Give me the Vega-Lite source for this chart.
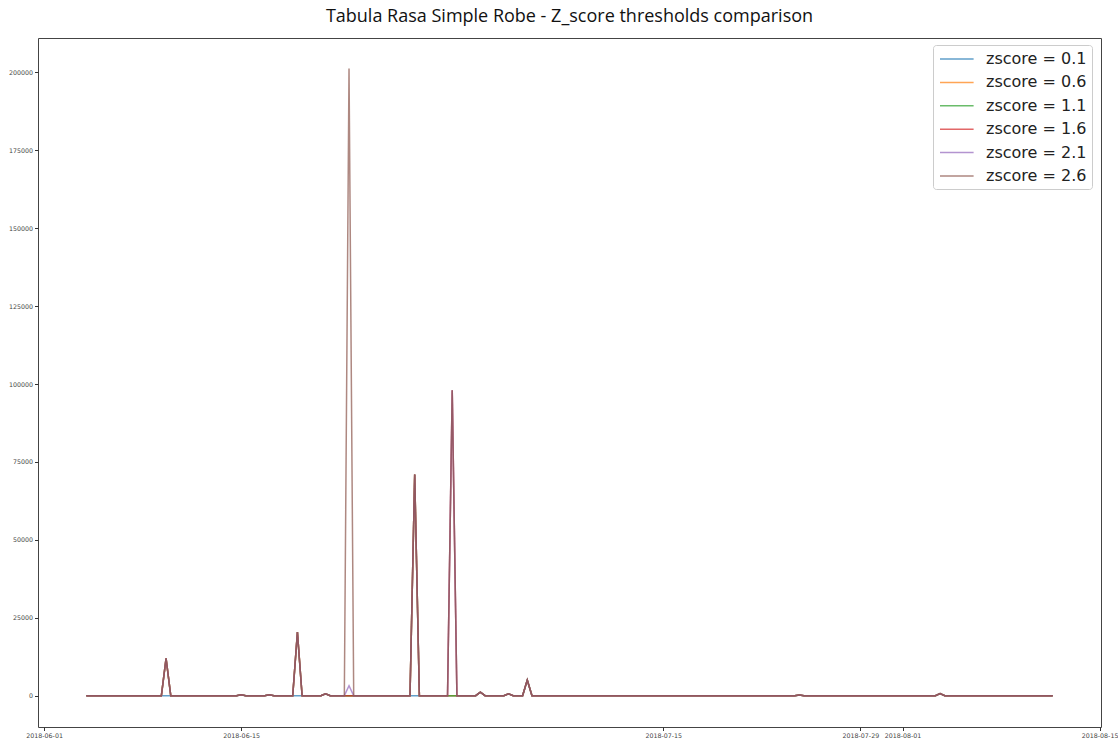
{
  "$schema": "https://vega.github.io/schema/vega-lite/v6.json",
  "width": 1063,
  "height": 689,
  "autosize": {"type": "none"},
  "padding": {"left": 38, "top": 38, "right": 17, "bottom": 14},
  "background": "white",
  "title": {
    "text": "Tabula Rasa Simple Robe - Z_score thresholds comparison",
    "font": "Open Sans",
    "fontSize": 18,
    "fontWeight": "normal",
    "color": "#111111",
    "anchor": "middle",
    "frame": "group",
    "offset": 12
  },
  "data": {
    "values": [
      {"t": "2018-06-04T00:00", "z01": 0, "z06": 0, "z11": 0, "z16": 0, "z21": 0, "z26": 0},
      {"t": "2018-06-09T08:00", "z01": 0, "z06": 0, "z11": 0, "z16": 0, "z21": 0, "z26": 0},
      {"t": "2018-06-09T16:00", "z01": 0, "z06": 12000, "z11": 12000, "z16": 12000, "z21": 12000, "z26": 12000},
      {"t": "2018-06-10T00:00", "z01": 0, "z06": 0, "z11": 0, "z16": 0, "z21": 0, "z26": 0},
      {"t": "2018-06-14T16:00", "z01": 0, "z06": 0, "z11": 0, "z16": 0, "z21": 0, "z26": 0},
      {"t": "2018-06-15T00:00", "z01": 300, "z06": 300, "z11": 300, "z16": 300, "z21": 300, "z26": 300},
      {"t": "2018-06-15T08:00", "z01": 0, "z06": 0, "z11": 0, "z16": 0, "z21": 0, "z26": 0},
      {"t": "2018-06-16T16:00", "z01": 0, "z06": 0, "z11": 0, "z16": 0, "z21": 0, "z26": 0},
      {"t": "2018-06-17T00:00", "z01": 300, "z06": 300, "z11": 300, "z16": 300, "z21": 300, "z26": 300},
      {"t": "2018-06-17T08:00", "z01": 0, "z06": 0, "z11": 0, "z16": 0, "z21": 0, "z26": 0},
      {"t": "2018-06-18T16:00", "z01": 0, "z06": 0, "z11": 0, "z16": 0, "z21": 0, "z26": 0},
      {"t": "2018-06-19T00:00", "z01": 0, "z06": 20400, "z11": 20400, "z16": 20400, "z21": 20400, "z26": 20400},
      {"t": "2018-06-19T08:00", "z01": 0, "z06": 0, "z11": 0, "z16": 0, "z21": 0, "z26": 0},
      {"t": "2018-06-20T16:00", "z01": 0, "z06": 0, "z11": 0, "z16": 0, "z21": 0, "z26": 0},
      {"t": "2018-06-21T00:00", "z01": 600, "z06": 600, "z11": 600, "z16": 600, "z21": 600, "z26": 600},
      {"t": "2018-06-21T08:00", "z01": 0, "z06": 0, "z11": 0, "z16": 0, "z21": 0, "z26": 0},
      {"t": "2018-06-22T08:00", "z01": 0, "z06": 0, "z11": 0, "z16": 0, "z21": 0, "z26": 0},
      {"t": "2018-06-22T16:00", "z01": 0, "z06": 0, "z11": 0, "z16": 0, "z21": 3200, "z26": 201300},
      {"t": "2018-06-23T00:00", "z01": 0, "z06": 0, "z11": 0, "z16": 0, "z21": 0, "z26": 0},
      {"t": "2018-06-27T00:00", "z01": 0, "z06": 0, "z11": 0, "z16": 0, "z21": 0, "z26": 0},
      {"t": "2018-06-27T08:00", "z01": 0, "z06": 71000, "z11": 71000, "z16": 71000, "z21": 71000, "z26": 71000},
      {"t": "2018-06-27T16:00", "z01": 0, "z06": 0, "z11": 0, "z16": 0, "z21": 0, "z26": 0},
      {"t": "2018-06-29T16:00", "z01": 0, "z06": 0, "z11": 0, "z16": 0, "z21": 0, "z26": 0},
      {"t": "2018-06-30T00:00", "z01": 0, "z06": 0, "z11": 0, "z16": 98000, "z21": 98000, "z26": 98000},
      {"t": "2018-06-30T08:00", "z01": 0, "z06": 0, "z11": 0, "z16": 0, "z21": 0, "z26": 0},
      {"t": "2018-07-01T16:00", "z01": 0, "z06": 0, "z11": 0, "z16": 0, "z21": 0, "z26": 0},
      {"t": "2018-07-02T00:00", "z01": 1100, "z06": 1100, "z11": 1100, "z16": 1100, "z21": 1100, "z26": 1100},
      {"t": "2018-07-02T08:00", "z01": 0, "z06": 0, "z11": 0, "z16": 0, "z21": 0, "z26": 0},
      {"t": "2018-07-03T16:00", "z01": 0, "z06": 0, "z11": 0, "z16": 0, "z21": 0, "z26": 0},
      {"t": "2018-07-04T00:00", "z01": 600, "z06": 600, "z11": 600, "z16": 600, "z21": 600, "z26": 600},
      {"t": "2018-07-04T08:00", "z01": 0, "z06": 0, "z11": 0, "z16": 0, "z21": 0, "z26": 0},
      {"t": "2018-07-05T00:00", "z01": 0, "z06": 0, "z11": 0, "z16": 0, "z21": 0, "z26": 0},
      {"t": "2018-07-05T08:00", "z01": 5000, "z06": 5000, "z11": 5000, "z16": 5000, "z21": 5000, "z26": 5000},
      {"t": "2018-07-05T16:00", "z01": 0, "z06": 0, "z11": 0, "z16": 0, "z21": 0, "z26": 0},
      {"t": "2018-07-24T08:00", "z01": 0, "z06": 0, "z11": 0, "z16": 0, "z21": 0, "z26": 0},
      {"t": "2018-07-24T16:00", "z01": 200, "z06": 200, "z11": 200, "z16": 200, "z21": 200, "z26": 200},
      {"t": "2018-07-25T00:00", "z01": 0, "z06": 0, "z11": 0, "z16": 0, "z21": 0, "z26": 0},
      {"t": "2018-08-03T08:00", "z01": 0, "z06": 0, "z11": 0, "z16": 0, "z21": 0, "z26": 0},
      {"t": "2018-08-03T16:00", "z01": 700, "z06": 700, "z11": 700, "z16": 700, "z21": 700, "z26": 700},
      {"t": "2018-08-04T00:00", "z01": 0, "z06": 0, "z11": 0, "z16": 0, "z21": 0, "z26": 0},
      {"t": "2018-08-11T16:00", "z01": 0, "z06": 0, "z11": 0, "z16": 0, "z21": 0, "z26": 0}
    ]
  },
  "transform": [
    {"fold": ["z01", "z06", "z11", "z16", "z21", "z26"], "as": ["series", "v"]}
  ],
  "mark": {"type": "line", "strokeWidth": 1.5, "opacity": 0.7},
  "encoding": {
    "x": {
      "field": "t",
      "type": "temporal",
      "scale": {
        "domain": [
          {"year": 2018, "month": 5, "date": 31, "hours": 13, "minutes": 36},
          {"year": 2018, "month": 8, "date": 15, "hours": 2, "minutes": 24}
        ]
      },
      "axis": {
        "title": null,
        "grid": false,
        "domain": false,
        "values": [
          {"year": 2018, "month": 6, "date": 1},
          {"year": 2018, "month": 6, "date": 15},
          {"year": 2018, "month": 7, "date": 15},
          {"year": 2018, "month": 7, "date": 29},
          {"year": 2018, "month": 8, "date": 1},
          {"year": 2018, "month": 8, "date": 15}
        ],
        "format": "%Y-%m-%d",
        "labelFont": "DejaVu Sans",
        "labelFontSize": 6.3,
        "labelColor": "#444444",
        "labelPadding": 2,
        "labelOverlap": false,
        "tickSize": 3.5,
        "tickColor": "#333333"
      }
    },
    "y": {
      "field": "v",
      "type": "quantitative",
      "scale": {"domain": [-10050, 211050], "nice": false, "zero": false},
      "axis": {
        "title": null,
        "grid": false,
        "domain": false,
        "values": [0, 25000, 50000, 75000, 100000, 125000, 150000, 175000, 200000],
        "format": "d",
        "labelFont": "DejaVu Sans",
        "labelFontSize": 6.3,
        "labelColor": "#444444",
        "labelPadding": 2,
        "tickSize": 3.5,
        "tickColor": "#333333"
      }
    },
    "color": {
      "field": "series",
      "type": "nominal",
      "scale": {
        "domain": ["z01", "z06", "z11", "z16", "z21", "z26"],
        "range": ["#1f77b4", "#ff7f0e", "#2ca02c", "#d62728", "#9467bd", "#8c564b"]
      },
      "legend": {
        "title": null,
        "orient": "none",
        "legendX": 895,
        "legendY": 7,
        "symbolType": "M-0.875,0H3.325",
        "symbolSize": 256,
        "symbolStrokeWidth": 1.5,
        "symbolOpacity": 0.7,
        "labelExpr": "'zscore = ' + substring(datum.label, 1, 2) + '.' + substring(datum.label, 2, 3)",
        "labelFont": "DejaVu Sans",
        "labelFontSize": 16,
        "labelColor": "#222222",
        "labelOffset": 30,
        "rowPadding": 6.4,
        "padding": 5,
        "fillColor": "white",
        "strokeColor": "#cccccc",
        "cornerRadius": 3
      }
    }
  },
  "config": {
    "view": {"stroke": "#444444", "strokeWidth": 1}
  }
}
